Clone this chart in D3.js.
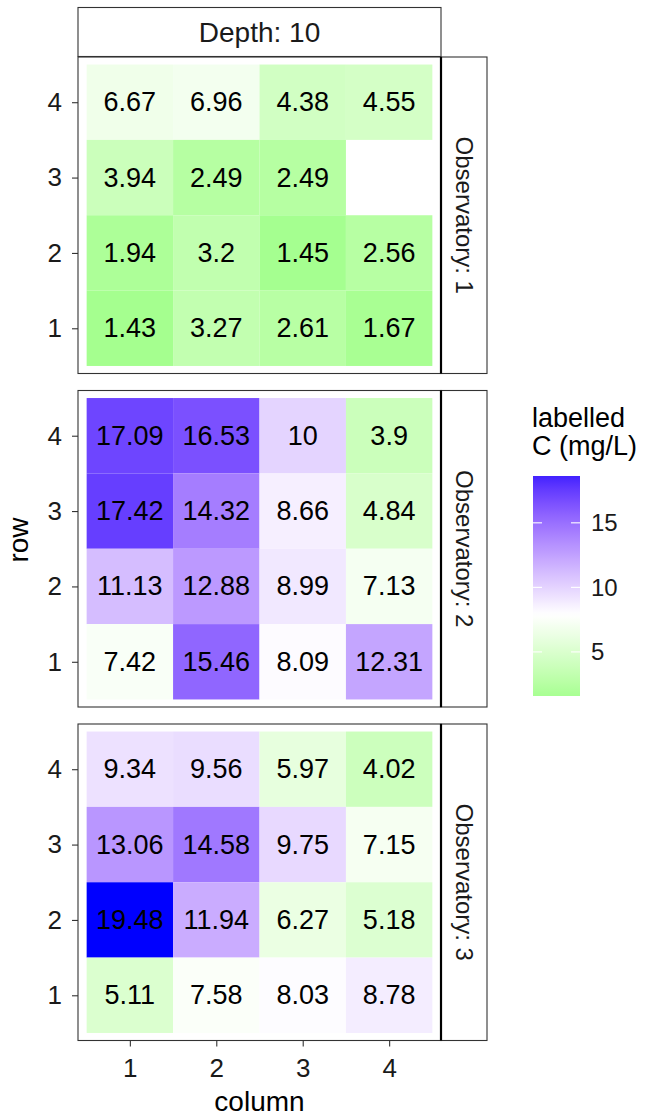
<!DOCTYPE html>
<html>
<head>
<meta charset="utf-8">
<script src="https://cdn.jsdelivr.net/npm/d3@7"></script>
<style>
  body { margin: 0; background: #fff; }
  svg text { font-family: "Liberation Sans", Arial, Helvetica, sans-serif; }
</style>
</head>
<body>
<svg id="chart" width="651" height="1119"></svg>
<script>
// ---- data ---------------------------------------------------------------
const columns = [1, 2, 3, 4];
const rows = [4, 3, 2, 1];                 // order in which the value rows below are listed
const observatories = ["Observatory: 1", "Observatory: 2", "Observatory: 3"];
const depthLabel = "Depth: 10";

// labelled C (mg/L); each inner array is one row (4 → 1), columns 1 → 4; null = not measured
const obs1 = [
  [6.67, 6.96, 4.38, 4.55],
  [3.94, 2.49, 2.49, null],
  [1.94, 3.2, 1.45, 2.56],
  [1.43, 3.27, 2.61, 1.67]
];
const obs2 = [
  [17.09, 16.53, 10, 3.9],
  [17.42, 14.32, 8.66, 4.84],
  [11.13, 12.88, 8.99, 7.13],
  [7.42, 15.46, 8.09, 12.31]
];
const obs3 = [
  [9.34, 9.56, 5.97, 4.02],
  [13.06, 14.58, 9.75, 7.15],
  [19.48, 11.94, 6.27, 5.18],
  [5.11, 7.58, 8.03, 8.78]
];
const panelValues = [obs1, obs2, obs3];
const legendTicks = [5, 10, 15];

// ---- flatten into cells -------------------------------------------------
const cells = [];
panelValues.forEach((grid, p) => {
  grid.forEach((vals, ri) => {
    vals.forEach((v, ci) => {
      if (v !== null) cells.push({ panel: p, row: rows[ri], col: columns[ci], value: v });
    });
  });
});

// ---- layout -------------------------------------------------------------
const svg = d3.select("#chart");
const panelLeft = 78, panelRight = 441, stripRight = 487;
const panelH = 316.5, panelGap = 17, firstTop = 57;
const panelTops = observatories.map((_, i) => firstTop + i * (panelH + panelGap));
const axisColor = "#333333";
const textColor = "#1a1a1a";
const fontFamily = "Liberation Sans, Arial, sans-serif";

const x = d3.scaleLinear().domain([0.4, 4.6]).range([panelLeft, panelRight]);

// diverging fill: green → white (at the mean) → blue, interpolated in Lab
const vMin = d3.min(cells, d => d.value);
const vMax = d3.max(cells, d => d.value);
const vMid = d3.mean(cells, d => d.value);
const spread = Math.max(vMid - vMin, vMax - vMid);
const fill = d3.scaleDiverging()
  .domain([vMid - spread, vMid, vMid + spread])
  .interpolator(d3.piecewise(d3.interpolateLab, ["#00ff00", "#ffffff", "#0000ff"]));

// ---- top strip ----------------------------------------------------------
svg.append("rect")
  .attr("x", panelLeft).attr("y", 7.5)
  .attr("width", panelRight - panelLeft).attr("height", 49)
  .attr("fill", "#fff").attr("stroke", axisColor).attr("stroke-width", 1.1);
svg.append("text")
  .attr("x", (panelLeft + panelRight) / 2).attr("y", 32)
  .attr("text-anchor", "middle").attr("dominant-baseline", "central")
  .attr("font-size", 28).attr("fill", textColor)
  .text(depthLabel);

// ---- panels -------------------------------------------------------------
observatories.forEach((label, p) => {
  const top = panelTops[p], bottom = top + panelH;
  const y = d3.scaleLinear().domain([0.4, 4.6]).range([bottom, top]);
  const g = svg.append("g");

  g.selectAll("rect.tile")
    .data(cells.filter(d => d.panel === p))
    .join("rect")
    .attr("class", "tile")
    .attr("x", d => x(d.col - 0.5))
    .attr("y", d => y(d.row + 0.5))
    .attr("width", d => x(d.col + 0.5) - x(d.col - 0.5))
    .attr("height", d => y(d.row - 0.5) - y(d.row + 0.5))
    .attr("fill", d => fill(d.value));

  g.selectAll("text.val")
    .data(cells.filter(d => d.panel === p))
    .join("text")
    .attr("class", "val")
    .attr("x", d => x(d.col))
    .attr("y", d => y(d.row))
    .attr("text-anchor", "middle").attr("dominant-baseline", "central")
    .attr("font-size", 27).attr("fill", "#000")
    .text(d => d3.format("")(d.value));

  // panel border
  g.append("rect")
    .attr("x", panelLeft).attr("y", top)
    .attr("width", panelRight - panelLeft).attr("height", panelH)
    .attr("fill", "none").attr("stroke", axisColor).attr("stroke-width", 1.1);

  // right strip
  g.append("rect")
    .attr("x", panelRight).attr("y", top)
    .attr("width", stripRight - panelRight).attr("height", panelH)
    .attr("fill", "#fff").attr("stroke", axisColor).attr("stroke-width", 1.1);
  g.append("line")
    .attr("x1", panelRight).attr("x2", panelRight)
    .attr("y1", top).attr("y2", bottom)
    .attr("stroke", "#000").attr("stroke-width", 2.2);
  const cy = (top + bottom) / 2, cx = (panelRight + stripRight) / 2;
  g.append("text")
    .attr("transform", `translate(${cx},${cy}) rotate(90)`)
    .attr("text-anchor", "middle").attr("dominant-baseline", "central")
    .attr("font-size", 24).attr("fill", textColor)
    .text(label);

  // y axis
  const yAxis = g.append("g")
    .attr("transform", `translate(${panelLeft},0)`)
    .call(d3.axisLeft(y).tickValues(rows).tickSize(6).tickPadding(10).tickFormat(d3.format("d")));
  yAxis.select(".domain").remove();
  yAxis.selectAll(".tick line").attr("stroke", axisColor).attr("stroke-width", 1.1);
  yAxis.selectAll(".tick text")
    .attr("font-size", 26).attr("fill", textColor).attr("font-family", fontFamily);

  // x axis on the bottom panel only
  if (p === observatories.length - 1) {
    const xAxis = g.append("g")
      .attr("transform", `translate(0,${bottom})`)
      .call(d3.axisBottom(x).tickValues(columns).tickSize(6).tickPadding(12).tickFormat(d3.format("d")));
    xAxis.select(".domain").remove();
    xAxis.selectAll(".tick line").attr("stroke", axisColor).attr("stroke-width", 1.1);
    xAxis.selectAll(".tick text")
      .attr("font-size", 26).attr("fill", textColor).attr("font-family", fontFamily);
  }
});

// ---- axis titles --------------------------------------------------------
svg.append("text")
  .attr("x", (panelLeft + panelRight) / 2).attr("y", 1111)
  .attr("text-anchor", "middle").attr("font-size", 28).attr("fill", "#000")
  .text("column");
svg.append("text")
  .attr("transform", "translate(28,540) rotate(-90)")
  .attr("text-anchor", "middle").attr("font-size", 28).attr("fill", "#000")
  .text("row");

// ---- legend -------------------------------------------------------------
const barX = 533, barW = 47, barTop = 476, barBottom = 696;
// value → vertical position along the colour bar
const ly = d3.scaleLinear().domain([vMin, vMax]).range([698, 465]);

const grad = svg.append("defs").append("linearGradient")
  .attr("id", "legendGrad").attr("x1", 0).attr("y1", 1).attr("x2", 0).attr("y2", 0);
d3.range(0, 1.0001, 0.02).forEach(t => {
  const yy = barBottom - t * (barBottom - barTop);
  grad.append("stop")
    .attr("offset", t)
    .attr("stop-color", fill(ly.invert(yy)));
});

svg.append("text")
  .attr("x", 532).attr("y", 427).attr("font-size", 27).attr("fill", "#000")
  .text("labelled");
svg.append("text")
  .attr("x", 532).attr("y", 455).attr("font-size", 27).attr("fill", "#000")
  .text("C (mg/L)");

svg.append("rect")
  .attr("x", barX).attr("y", barTop)
  .attr("width", barW).attr("height", barBottom - barTop)
  .attr("fill", "url(#legendGrad)");

const lt = svg.append("g");
legendTicks.forEach(v => {
  lt.append("line").attr("x1", barX).attr("x2", barX + 9)
    .attr("y1", ly(v)).attr("y2", ly(v))
    .attr("stroke", "#fff").attr("stroke-width", 1.1);
  lt.append("line").attr("x1", barX + barW - 9).attr("x2", barX + barW)
    .attr("y1", ly(v)).attr("y2", ly(v))
    .attr("stroke", "#fff").attr("stroke-width", 1.1);
  lt.append("text")
    .attr("x", 591).attr("y", ly(v))
    .attr("dominant-baseline", "central")
    .attr("font-size", 24).attr("fill", textColor)
    .text(v);
});
</script>
</body>
</html>
